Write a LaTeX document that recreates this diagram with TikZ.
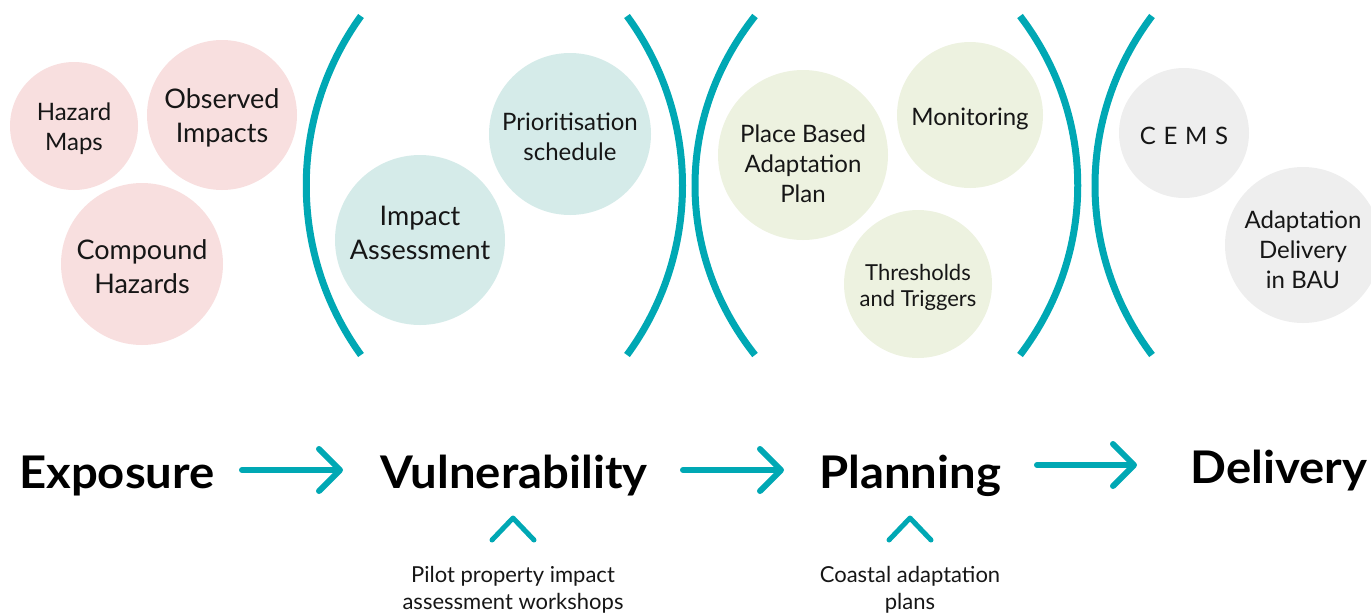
\documentclass[tikz,border=0pt]{standalone}
\usepackage{fontspec}
\setmainfont{Lato}
\newfontfamily\headfont{Lato}[FakeStretch=1.05]
\usetikzlibrary{arrows.meta,calc}

\definecolor{accent}{HTML}{00A8B4}
\definecolor{pinkfill}{HTML}{F8DFDF}
\definecolor{aquafill}{HTML}{D5EBE9}
\definecolor{greenfill}{HTML}{EDF2E0}
\definecolor{greyfill}{HTML}{EEEEEE}
\definecolor{ink}{HTML}{161616}

\tikzset{
  bubble/.style={circle,fill=#1,draw=none,inner sep=0pt},
  txtL/.style={align=center,text=ink,inner sep=0pt,font=\fontsize{27}{34}\selectfont},
  txtM/.style={align=center,text=ink,inner sep=0pt,font=\fontsize{24}{30}\selectfont},
  txtS/.style={align=center,text=ink,inner sep=0pt,font=\fontsize{22}{26}\selectfont},
  bracket/.style={draw=accent,line width=7pt},
  title/.style={anchor=base,inner sep=0pt,text=black,font=\headfont\bfseries\fontsize{45}{50}\selectfont},
  flow/.style={draw=accent,line width=6pt,line cap=round,
    -{Straight Barb[length=21pt,width=42pt,round]}},
  caret/.style={draw=accent,line width=5pt,line cap=round,line join=round},
  caption/.style={anchor=north,align=center,inner sep=0pt,text=ink,
    font=\fontsize{22}{27}\selectfont},
}

\begin{document}
\begin{tikzpicture}[x=1pt,y=-1pt]
\path[use as bounding box] (0,0) rectangle (1371,614);

% ---- Exposure bubbles
\node[bubble=pinkfill,minimum size=128] (hazB) at (74,126) {};
\node[txtM] (hazT) at ([yshift=-3pt]hazB.center) {Hazard\\Maps};
\node[bubble=pinkfill,minimum size=150] (obsB) at (222,115) {};
\node[txtL] (obsT) at ([yshift=-3pt]obsB.center) {Observed\\Impacts};
\node[bubble=pinkfill,minimum size=162] (cmpB) at (142,264) {};
\node[txtL] (cmpT) at ([yshift=-3pt]cmpB.center) {Compound\\Hazards};

% ---- Vulnerability bubbles
\node[bubble=aquafill,minimum size=170] (impB) at (420,240) {};
\node[txtL] (impT) at ([yshift=7pt]impB.center) {Impact\\Assessment};
\node[bubble=aquafill,minimum size=162] (priB) at (570,134) {};
\node[txtM] (priT) at ([yshift=-3pt]priB.center) {Prioritisation\\schedule};

% ---- Planning bubbles
\node[bubble=greenfill,minimum size=170] (pbaB) at (803,155) {};
\node[txtM] (pbaT) at ([yshift=-9pt]pbaB.center) {Place Based\\Adaptation\\Plan};
\node[bubble=greenfill,minimum size=146] (monB) at (970,115) {};
\node[txtM] (monT) at ([yshift=-4pt]monB.center) {Monitoring};
\node[bubble=greenfill,minimum size=148] (thrB) at (918,284) {};
\node[txtS] (thrT) at ([yshift=-3pt]thrB.center) {Thresholds\\and Triggers};

% ---- Delivery bubbles
\node[bubble=greyfill,minimum size=130] (cemB) at (1184,133) {};
\node[txtM] (cemT) at ([yshift=-3pt]cemB.center) {C\hspace{0.32em}E\hspace{0.32em}M\hspace{0.32em}S};
\node[bubble=greyfill,minimum size=156] (bauB) at (1303,245) {};
\node[txtM] (bauT) at ([yshift=-5pt]bauB.center) {Adaptation\\Delivery\\in BAU};

% ---- stage brackets
\draw[bracket] (361,16) .. controls (288,117) and (288,254) .. (361,355);
\draw[bracket] (627,16) .. controls (701,117) and (701,254) .. (627,355);
\draw[bracket] (755,16) .. controls (675,117) and (675,254) .. (755,355);
\draw[bracket] (1020,16) .. controls (1097,117) and (1097,254) .. (1020,355);
\draw[bracket] (1152,16) .. controls (1076,117) and (1076,254) .. (1152,355);

% ---- stage titles
\node[title] (expo) at (117,488) {Exposure};
\node[title] (vuln) at (514,488) {Vulnerability};
\node[title] (plan) at (910,488) {Planning};
\node[title] (deli) at (1279,483) {Delivery};

% ---- flow arrows
\draw[flow] ($(expo.base)+(125,-18)$) -- ($(vuln.base)+(-171,-18)$);
\draw[flow] ($(vuln.base)+(169,-18)$) -- ($(plan.base)+(-126,-18)$);
\draw[flow] ($(plan.base)+(127,-23)$) -- ($(deli.base)+(-142,-18)$);

% ---- supporting inputs
\node[caption] (pilot) at (513,566) {Pilot property impact\\assessment workshops};
\node[caption] (coast) at (910,566) {Coastal adaptation\\plans};
\draw[caret] ($(pilot.north)+(-21,-26)$) -- ++(21,-22) -- ++(21,22);
\draw[caret] ($(coast.north)+(-21,-26)$) -- ++(21,-22) -- ++(21,22);
\end{tikzpicture}
\end{document}
